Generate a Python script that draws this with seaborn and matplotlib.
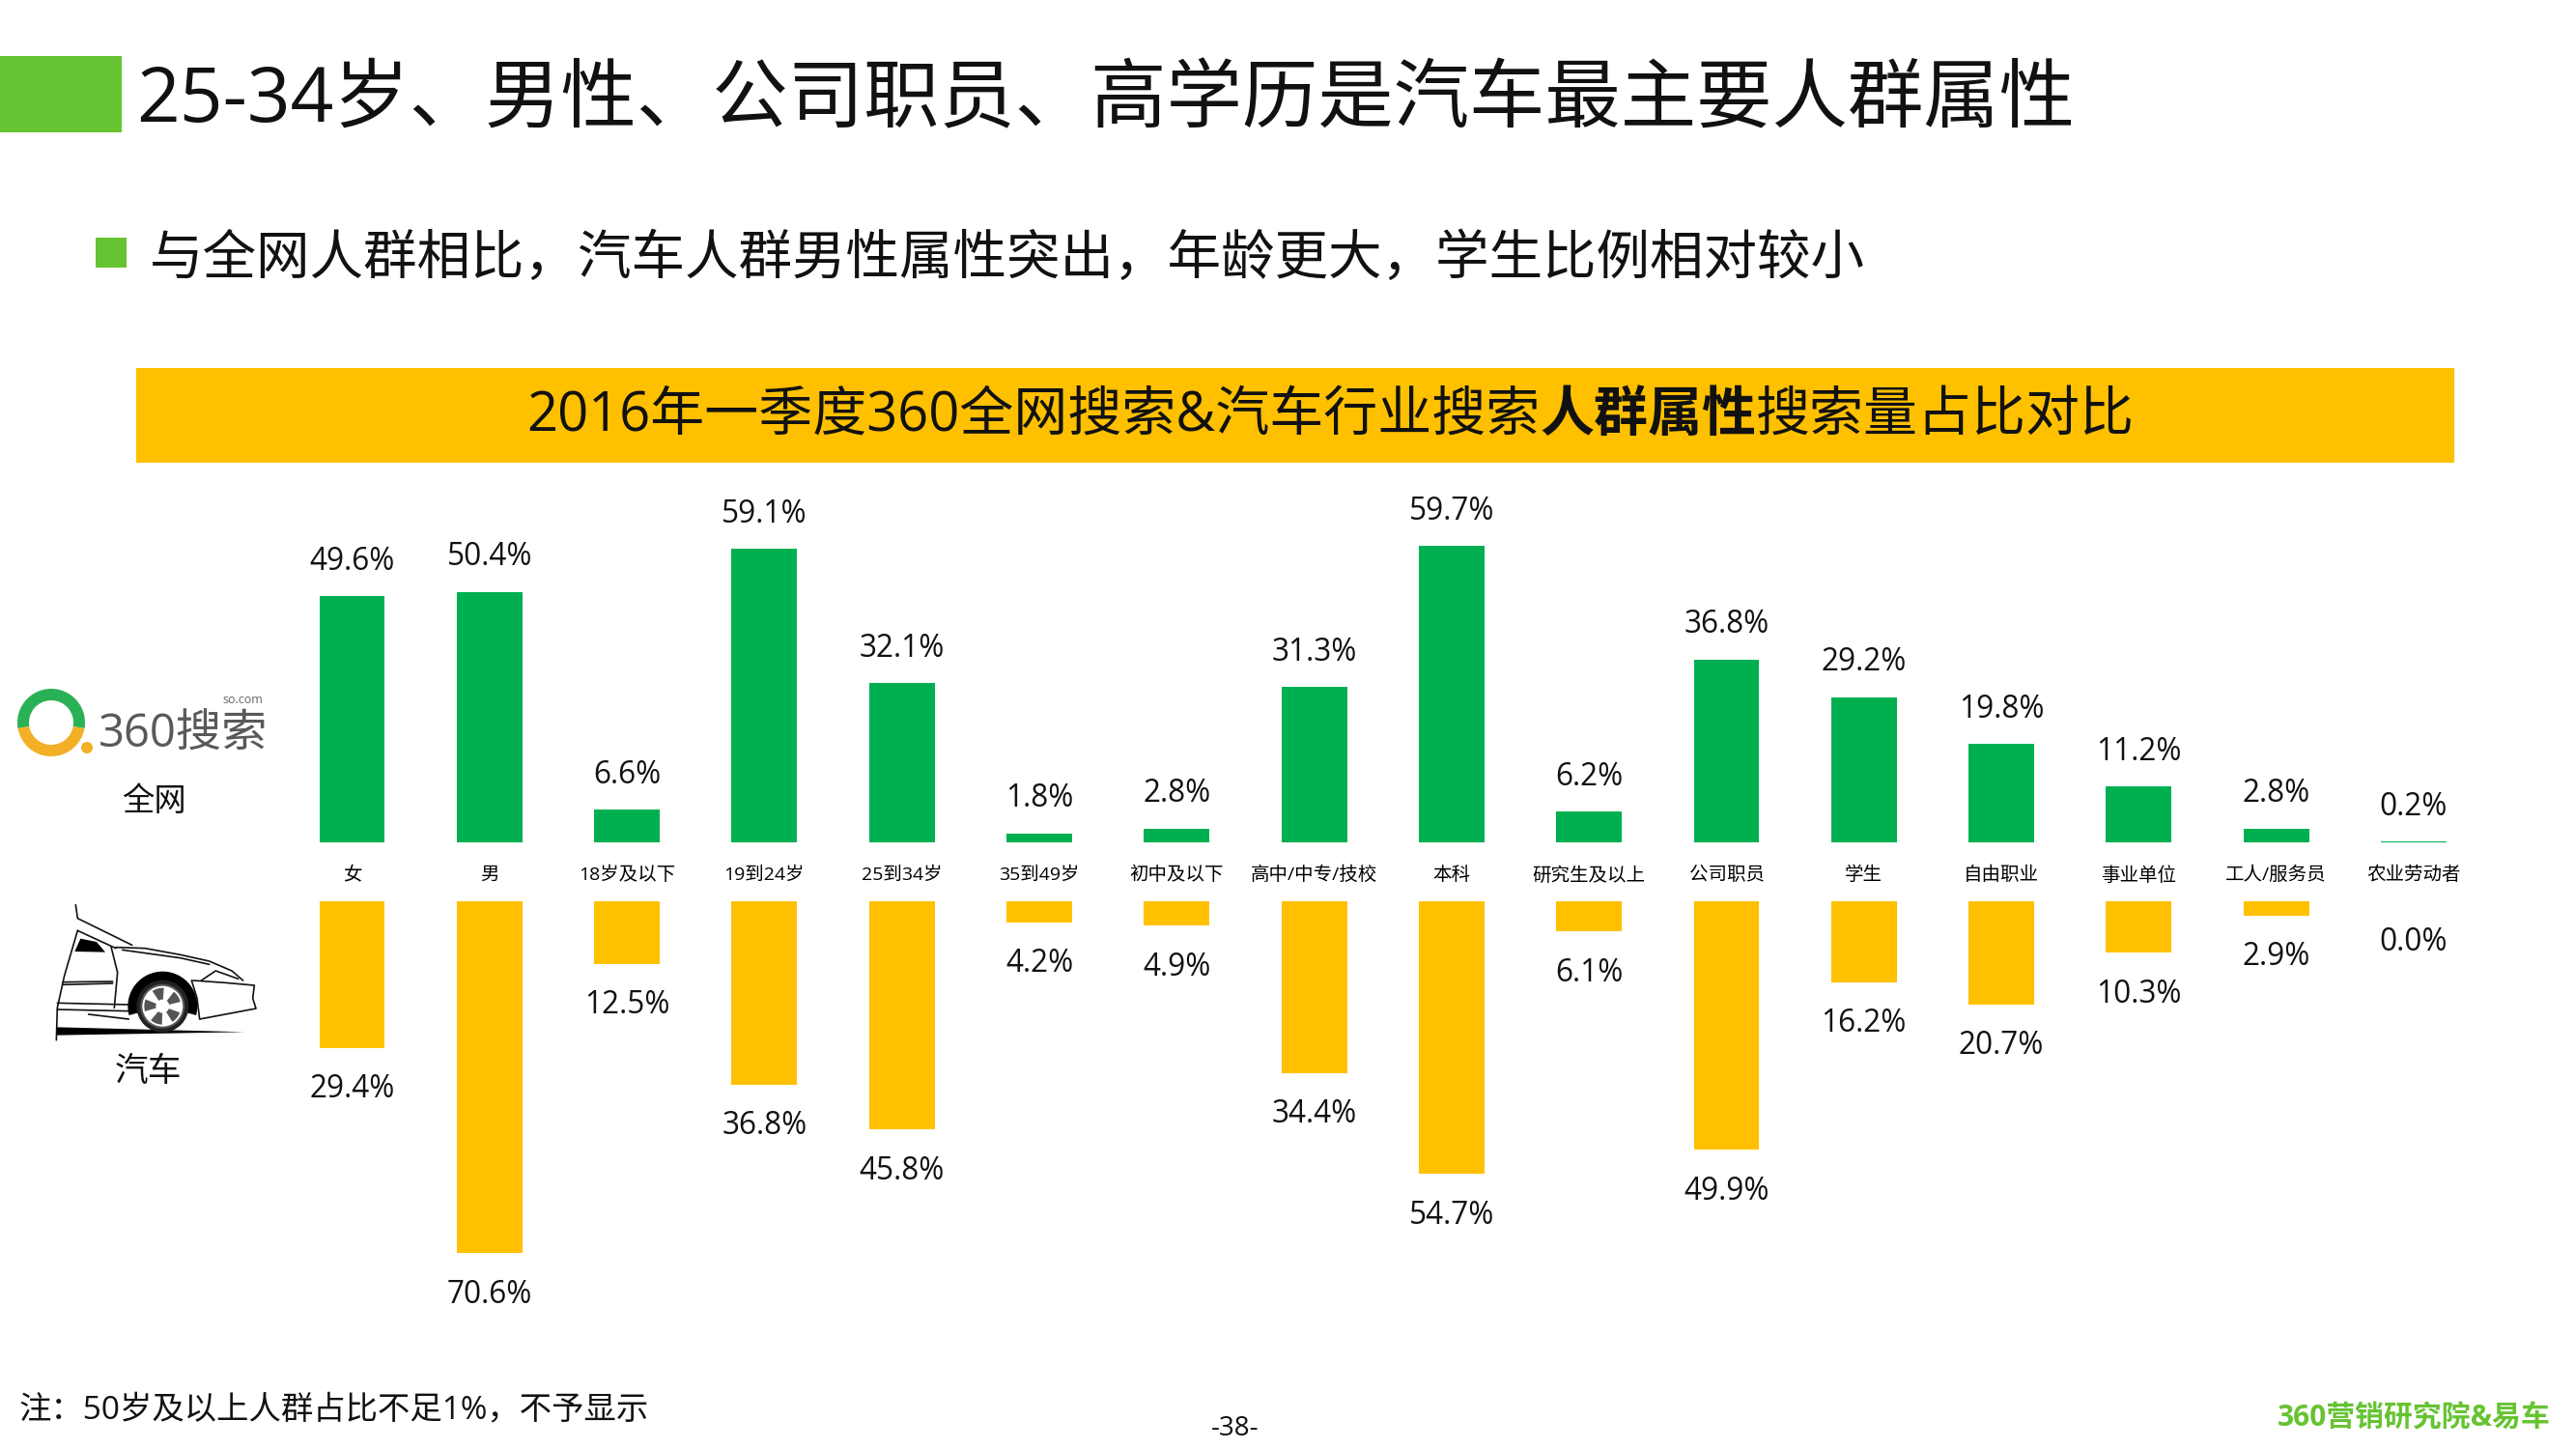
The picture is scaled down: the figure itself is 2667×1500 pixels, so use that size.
# ============================================================
# 360 SEARCH vs AUTO  —  AUDIENCE ATTRIBUTE COMPARISON
# ============================================================
#
# Output : out.png  (2667 x 1500)
#
# Top row    : all-web audience share (green)
# Bottom row : auto audience share (yellow)
#
# ============================================================

import pandas as pd
import matplotlib.pyplot as plt
import seaborn as sns

from matplotlib.patches import Circle, Polygon, Rectangle, Wedge

plt.rcParams['font.family'] = ['Open Sans', 'Noto Sans CJK SC', 'DejaVu Sans']

# ============================================================
# DATA
# ============================================================

CATEGORIES = [
    '女', '男', '18岁及以下', '19到24岁', '25到34岁', '35到49岁',
    '初中及以下', '高中/中专/技校', '本科', '研究生及以上',
    '公司职员', '学生', '自由职业', '事业单位', '工人/服务员', '农业劳动者'
]

WEB_SHARE  = [49.6, 50.4, 6.6, 59.1, 32.1, 1.8, 2.8, 31.3, 59.7, 6.2, 36.8, 29.2, 19.8, 11.2, 2.8, 0.2]
AUTO_SHARE = [29.4, 70.6, 12.5, 36.8, 45.8, 4.2, 4.9, 34.4, 54.7, 6.1, 49.9, 16.2, 20.7, 10.3, 2.9, 0.0]

GREEN  = '#00B050'
YELLOW = '#FFC000'
LEAF   = '#66C332'

W, H = 2667, 1500

df = pd.DataFrame({'category': CATEGORIES, 'web': WEB_SHARE, 'auto': AUTO_SHARE})

fig = plt.figure(figsize=(W / 100, H / 100))

# ============================================================
# PAGE FURNITURE  (drawn in pixel coordinates)
# ============================================================

page = fig.add_axes([0, 0, 1, 1])
page.set_xlim(0, W)
page.set_ylim(H, 0)
page.axis('off')

page.add_patch(Rectangle((0, 58), 126, 79, color=LEAF, lw=0))
page.text(141, 106, '25-34岁、男性、公司职员、高学历是汽车最主要人群属性',
          fontsize=56.45, va='center', color='#111111')

page.add_patch(Rectangle((99, 246), 32, 31, color=LEAF, lw=0))
page.text(155, 270, '与全网人群相比\uff0c汽车人群男性属性突出\uff0c年龄更大\uff0c学生比例相对较小',
          fontsize=40, va='center', color='#111111')

page.add_patch(Rectangle((141, 381), 2400, 98, color=YELLOW, lw=0))

# banner title has a bold part in the middle, so chain three texts
renderer = fig.canvas.get_renderer()
x_pos = 545
for piece, weight in [('2016年一季度360全网搜索&汽车行业搜索', 'normal'),
                      ('人群属性', 'bold'),
                      ('搜索量占比对比', 'normal')]:
    t = page.text(x_pos, 446, piece, fontsize=40.3, fontweight=weight, va='baseline', color='#111111')
    x_pos = t.get_window_extent(renderer).x1

page.text(20, 1460, '注\uff1a50岁及以上人群占比不足1%\uff0c不予显示', fontsize=24, va='center', color='#111111')
page.text(1279, 1479, '-38-', fontsize=20, ha='center', va='center', color='#111111')
page.text(2641, 1469, '360营销研究院&易车', fontsize=21.5, fontweight='bold',
          ha='right', va='center', color=LEAF)

# ============================================================
# 360 LOGO
# ============================================================

page.add_patch(Wedge((53, 748), 35, 170, 370, width=12, color='#2BB155', lw=0))
page.add_patch(Wedge((53, 748), 35, 10, 170, width=12, color='#F3AF26', lw=0))
page.add_patch(Circle((90, 774), 6, color='#F3AF26', lw=0))
page.text(102, 761, '360搜索', fontsize=34, va='center', color='#595959')
page.text(272, 725, 'so.com', fontsize=9, ha='right', va='center', color='#666666')
page.text(160, 831, '全网', fontsize=24, ha='center', va='center', color='#111111')

# ============================================================
# CAR SKETCH  (outline)
# ============================================================

def car_xy(points):
    return [(x / 3, 680 + y / 3) for x, y in points]

car_lines = [
    [(235, 770), (241, 812), (410, 895)],
    [(241, 850), (360, 905)],
    [(360, 902), (450, 905), (560, 925), (650, 945), (720, 975), (755, 1005)],
    [(380, 910), (560, 935), (650, 955)],
    [(600, 1005), (700, 1012), (790, 1020), (785, 1060), (795, 1092), (620, 1125), (612, 1060), (595, 1005)],
    [(345, 900), (365, 980), (355, 1090)],
    [(241, 850), (200, 990), (178, 1090), (175, 1190)],
    [(195, 1010), (350, 1008)],
    [(195, 1018), (350, 1014)],
    [(178, 1075), (400, 1080)],
    [(178, 1095), (400, 1100)],
    [(275, 1110), (400, 1125)],
    [(625, 1005), (670, 975), (740, 1000)],
]
for line in car_lines:
    xy = car_xy(line)
    page.plot([p[0] for p in xy], [p[1] for p in xy], color='#111111', lw=1.2, solid_capstyle='round')

page.add_patch(Polygon(car_xy([(175, 1150), (760, 1165), (175, 1175)]), color='black', lw=0))
page.add_patch(Polygon(car_xy([(232, 915), (250, 875), (300, 885), (327, 917)]), color='black', lw=0))
page.add_patch(Wedge((505 / 3, 680 + 1085 / 3), 36, 165, 375, width=12, color='black', lw=0))
page.add_patch(Circle((505 / 3, 680 + 1085 / 3), 27, color='#222222', lw=0))
page.add_patch(Circle((505 / 3, 680 + 1085 / 3), 22, facecolor='white', edgecolor='#555555', lw=1.5))
for start in (20, 92, 164, 236, 308):
    page.add_patch(Wedge((505 / 3, 680 + 1085 / 3), 19, start, start + 38, width=12, color='#555555', lw=0))
page.text(153, 1110, '汽车', fontsize=25, ha='center', va='center', color='#111111')

# ============================================================
# TOP ROW  —  ALL WEB
# ============================================================

x_limits = (-364.5 / 142.3, (W - 364.5) / 142.3)

ax_top = fig.add_axes([0, (H - 872) / H, 1, 65 * 5.14 / H])
ax_top.patch.set_alpha(0)
sns.barplot(data=df, x='category', y='web', color=GREEN, saturation=1, width=0.477, ax=ax_top)
ax_top.set_xlim(x_limits)
ax_top.set_ylim(0, 65)
ax_top.bar_label(ax_top.containers[0], fmt='%.1f%%', padding=14, fontsize=22.7, color='#111111')
ax_top.set_xlabel('')
ax_top.set_ylabel('')
ax_top.set_yticks([])
ax_top.tick_params(axis='x', length=0, pad=18, labelsize=14)
sns.despine(ax=ax_top, left=True, bottom=True)

# ============================================================
# BOTTOM ROW  —  AUTO
# ============================================================

ax_bot = fig.add_axes([0, (H - 933 - 75 * 5.16) / H, 1, 75 * 5.16 / H])
ax_bot.patch.set_alpha(0)
sns.barplot(data=df, x='category', y='auto', color=YELLOW, saturation=1, width=0.477, ax=ax_bot)
ax_bot.set_xlim(x_limits)
ax_bot.set_ylim(75, 0)
bot_labels = ax_bot.bar_label(ax_bot.containers[0], fmt='%.1f%%', padding=19, fontsize=22.7, color='#111111')
bot_labels[-1].set_verticalalignment('top')   # zero bar: matplotlib would flip it upward
ax_bot.set_xlabel('')
ax_bot.set_ylabel('')
ax_bot.set_xticks([])
ax_bot.set_yticks([])
sns.despine(ax=ax_bot, left=True, bottom=True)

plt.savefig('out.png', dpi=100)
print("Saved: out.png")
